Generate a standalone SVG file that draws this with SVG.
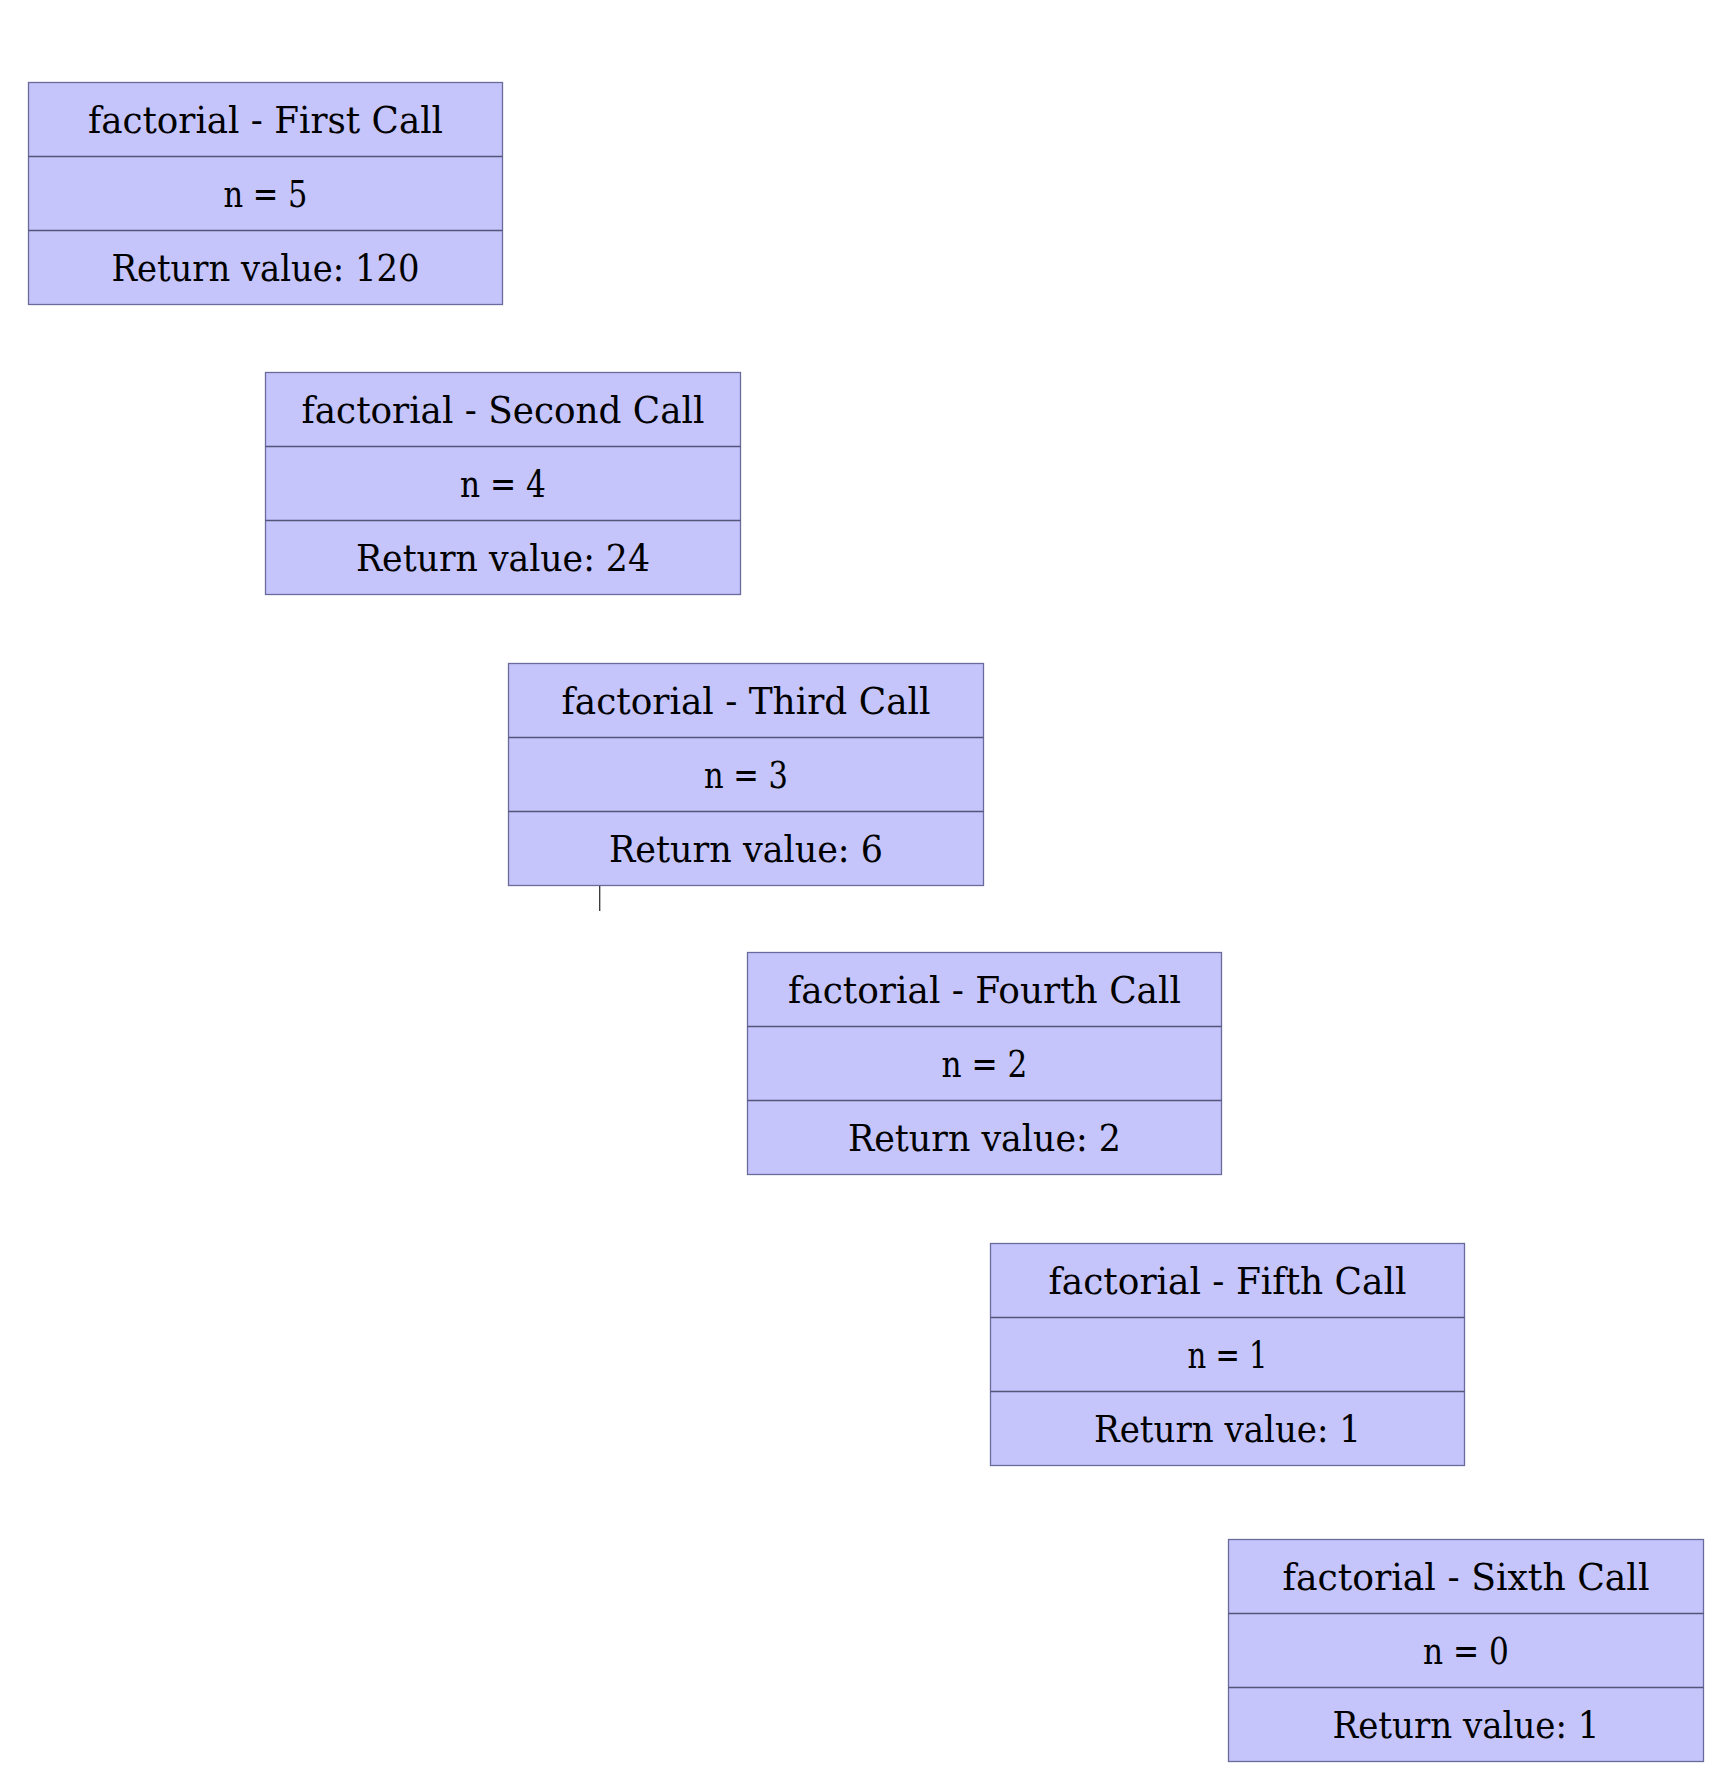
<svg xmlns="http://www.w3.org/2000/svg" width="1730" height="1780" viewBox="0 0 1730 1780">
<style>
.box{fill:#c5c5fc;stroke:#6a6a9c;stroke-width:1.3}
.div{stroke:#55557a;stroke-width:1.3}
.t{font-family:"DejaVu Serif","Liberation Serif",serif;font-size:37px;fill:#000000;text-anchor:middle}
.edge{stroke:#333333;stroke-width:1.3;fill:none}
</style>
<rect width="1730" height="1780" fill="#ffffff"/>
<g id="node1">
<rect class="box" x="28.5" y="82.5" width="474" height="222"/>
<line class="div" x1="28.5" y1="156.5" x2="502.5" y2="156.5"/>
<line class="div" x1="28.5" y1="230.5" x2="502.5" y2="230.5"/>
<text class="t" x="265.5" y="132.5" textLength="355" lengthAdjust="spacingAndGlyphs">factorial - First Call</text>
<text class="t" x="265.5" y="206.5" textLength="84" lengthAdjust="spacingAndGlyphs">n = 5</text>
<text class="t" x="265.5" y="280.5" textLength="308" lengthAdjust="spacingAndGlyphs">Return value: 120</text>
</g>
<g id="node2">
<rect class="box" x="265.5" y="372.5" width="475" height="222"/>
<line class="div" x1="265.5" y1="446.5" x2="740.5" y2="446.5"/>
<line class="div" x1="265.5" y1="520.5" x2="740.5" y2="520.5"/>
<text class="t" x="503" y="422.5" textLength="403" lengthAdjust="spacingAndGlyphs">factorial - Second Call</text>
<text class="t" x="503" y="496.5" textLength="86" lengthAdjust="spacingAndGlyphs">n = 4</text>
<text class="t" x="503" y="570.5" textLength="294" lengthAdjust="spacingAndGlyphs">Return value: 24</text>
</g>
<g id="node3">
<rect class="box" x="508.5" y="663.5" width="475" height="222"/>
<line class="div" x1="508.5" y1="737.5" x2="983.5" y2="737.5"/>
<line class="div" x1="508.5" y1="811.5" x2="983.5" y2="811.5"/>
<text class="t" x="746" y="713.5" textLength="369" lengthAdjust="spacingAndGlyphs">factorial - Third Call</text>
<text class="t" x="746" y="787.5" textLength="84" lengthAdjust="spacingAndGlyphs">n = 3</text>
<text class="t" x="746" y="861.5" textLength="274" lengthAdjust="spacingAndGlyphs">Return value: 6</text>
</g>
<g id="node4">
<rect class="box" x="747.5" y="952.5" width="474" height="222"/>
<line class="div" x1="747.5" y1="1026.5" x2="1221.5" y2="1026.5"/>
<line class="div" x1="747.5" y1="1100.5" x2="1221.5" y2="1100.5"/>
<text class="t" x="984.5" y="1002.5" textLength="393" lengthAdjust="spacingAndGlyphs">factorial - Fourth Call</text>
<text class="t" x="984.5" y="1076.5" textLength="86" lengthAdjust="spacingAndGlyphs">n = 2</text>
<text class="t" x="984.5" y="1150.5" textLength="273" lengthAdjust="spacingAndGlyphs">Return value: 2</text>
</g>
<g id="node5">
<rect class="box" x="990.5" y="1243.5" width="474" height="222"/>
<line class="div" x1="990.5" y1="1317.5" x2="1464.5" y2="1317.5"/>
<line class="div" x1="990.5" y1="1391.5" x2="1464.5" y2="1391.5"/>
<text class="t" x="1227.5" y="1293.5" textLength="358" lengthAdjust="spacingAndGlyphs">factorial - Fifth Call</text>
<text class="t" x="1227.5" y="1367.5" textLength="80" lengthAdjust="spacingAndGlyphs">n = 1</text>
<text class="t" x="1227.5" y="1441.5" textLength="267" lengthAdjust="spacingAndGlyphs">Return value: 1</text>
</g>
<g id="node6">
<rect class="box" x="1228.5" y="1539.5" width="475" height="222"/>
<line class="div" x1="1228.5" y1="1613.5" x2="1703.5" y2="1613.5"/>
<line class="div" x1="1228.5" y1="1687.5" x2="1703.5" y2="1687.5"/>
<text class="t" x="1466" y="1589.5" textLength="367" lengthAdjust="spacingAndGlyphs">factorial - Sixth Call</text>
<text class="t" x="1466" y="1663.5" textLength="86" lengthAdjust="spacingAndGlyphs">n = 0</text>
<text class="t" x="1466" y="1737.5" textLength="267" lengthAdjust="spacingAndGlyphs">Return value: 1</text>
</g>
<g id="connectors">
<line class="edge" x1="599.7" y1="886" x2="599.7" y2="911"/>
</g>
</svg>
